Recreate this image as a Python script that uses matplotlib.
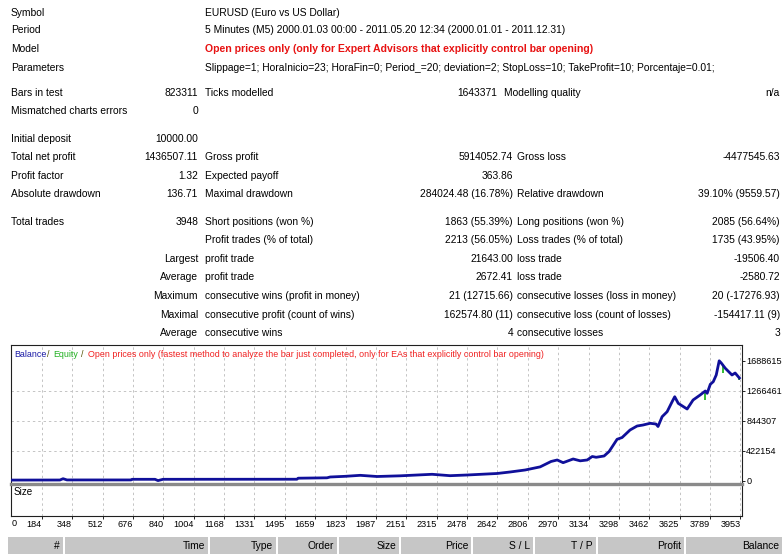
import matplotlib
matplotlib.use("Agg")
import matplotlib.pyplot as plt
from matplotlib.patches import Rectangle
from matplotlib.transforms import blended_transform_factory, offset_copy

# ---------------- data ----------------
info_labels = ["Symbol", "Period", "Model", "Parameters"]
info_values = [
    "EURUSD (Euro vs US Dollar)",
    "5 Minutes (M5) 2000.01.03 00:00 - 2011.05.20 12:34 (2000.01.01 - 2011.12.31)",
    "Open prices only (only for Expert Advisors that explicitly control bar opening)",
    "Slippage=1; HoraInicio=23; HoraFin=0; Period_=20; deviation=2; StopLoss=10; TakeProfit=10; Porcentaje=0.01;",
]

bars_row = ["Bars in test", "823311", "Ticks modelled", "1643371", "Modelling quality", "n/a"]
mismatch_row = ["Mismatched charts errors", "0"]
deposit_row = ["Initial deposit", "10000.00"]

stat_rows = [
    ["Total net profit", "1436507.11", "Gross profit", "5914052.74", "Gross loss", "-4477545.63"],
    ["Profit factor", "1.32", "Expected payoff", "363.86", "", ""],
    ["Absolute drawdown", "136.71", "Maximal drawdown", "284024.48 (16.78%)", "Relative drawdown", "39.10% (9559.57)"],
]
trade_rows = [
    ["Total trades", "3948", "Short positions (won %)", "1863 (55.39%)", "Long positions (won %)", "2085 (56.64%)"],
    ["", "", "Profit trades (% of total)", "2213 (56.05%)", "Loss trades (% of total)", "1735 (43.95%)"],
]
detail_rows = [
    ["Largest", "profit trade", "21643.00", "loss trade", "-19506.40"],
    ["Average", "profit trade", "2672.41", "loss trade", "-2580.72"],
    ["Maximum", "consecutive wins (profit in money)", "21 (12715.66)", "consecutive losses (loss in money)", "20 (-17276.93)"],
    ["Maximal", "consecutive profit (count of wins)", "162574.80 (11)", "consecutive loss (count of losses)", "-154417.11 (9)"],
    ["Average", "consecutive wins", "4", "consecutive losses", "3"],
]

chart_title_parts = ["Balance", "/", "Equity", "/",
                     "Open prices only (fastest method to analyze the bar just completed, only for EAs that explicitly control bar opening)"]

trade_no = [0, 282, 299, 320, 666, 671, 795, 811, 838, 1561, 1567, 1723, 1740, 1821, 1902,
            1993, 2117, 2290, 2387, 2479, 2641, 2711, 2792, 2873, 2932, 2965, 2997, 3051,
            3089, 3127, 3154, 3175, 3218, 3245, 3288, 3315, 3358, 3396, 3428, 3466, 3498,
            3509, 3531, 3558, 3585, 3599, 3618, 3666, 3698, 3736, 3764, 3774, 3791, 3807,
            3823, 3839, 3850, 3872, 3908, 3925, 3948]
balance = [10000, 11000, 29500, 12000, 12000, 21000, 21000, 3000, 21000, 22000, 36600, 42000,
           53500, 63000, 77000, 60500, 70000, 91500, 72000, 81600, 103000, 124000, 152000,
           196000, 272000, 293000, 255000, 307000, 281000, 293000, 342000, 331000, 349000,
           412000, 584000, 609000, 715000, 771000, 785000, 809000, 799000, 764000, 902000,
           972000, 1113000, 1183000, 1090000, 1010000, 1137000, 1207000, 1264000, 1231000,
           1358000, 1395000, 1489000, 1688615, 1658000, 1583000, 1489000, 1517000, 1446507]

equity_dip_trade = [3764, 3858, 3946]
equity_dip_low = [1137000, 1513000, 1418000]
equity_dip_high = [1264000, 1640000, 1460000]

y_ticks = [0, 422154, 844307, 1266461, 1688615]
y_tick_labels = ["0", "422154", "844307", "1266461", "1688615"]
x_ticks = [0, 184, 348, 512, 676, 840, 1004, 1168, 1331, 1495, 1659, 1823, 1987, 2151,
           2315, 2478, 2642, 2806, 2970, 3134, 3298, 3462, 3625, 3789, 3953]
x_tick_labels = [str(v) for v in x_ticks]

table_headers = ["#", "Time", "Type", "Order", "Size", "Price", "S / L", "T / P", "Profit", "Balance"]

# ---------------- figure ----------------
W, H = 782, 557
FONT = "Liberation Sans"
fig = plt.figure(figsize=(W / 100, H / 100), dpi=100)
fig.patch.set_facecolor("white")
renderer = fig.canvas.get_renderer()


def text_width(s, size, weight="normal"):
    t = fig.text(0, 0, s, fontsize=size, fontweight=weight, family=FONT)
    w = t.get_window_extent(renderer=renderer).width
    t.remove()
    return w


base = 10 * 510 / text_width(info_values[3], 10)
bold = 10 * 388 / text_width(info_values[2], 10, "bold")
title_size = 10 * 451 / text_width(chart_title_parts[4], 10)
tick_size = 6.6


def put(x, y, s, ha="left", size=None, color="black", weight="normal"):
    if not s:
        return
    fig.text(x / W, 1 - (y + 3.3) / H, s, ha=ha, va="baseline",
             fontsize=size or base, color=color, fontweight=weight, family=FONT)


# info block
info_y = [12.3, 29.3, 48.3, 67.7]
for lab, val, y in zip(info_labels, info_values, info_y):
    put(11, y, lab)
    if lab == "Model":
        put(205, y, val, size=bold, color="#e81212", weight="bold")
    else:
        put(205, y, val)

put(11, 92.3, bars_row[0]); put(198, 92.3, bars_row[1], ha="right")
put(205, 92.3, bars_row[2]); put(497, 92.3, bars_row[3], ha="right")
put(504, 92.3, bars_row[4]); put(780, 92.3, bars_row[5], ha="right")
put(11, 110.7, mismatch_row[0]); put(198, 110.7, mismatch_row[1], ha="right")
put(11, 139, deposit_row[0]); put(198, 139, deposit_row[1], ha="right")

for row, y in zip(stat_rows + trade_rows, [157, 176, 194, 221.7, 240]):
    put(11, y, row[0]); put(198, y, row[1], ha="right")
    put(205, y, row[2]); put(513, y, row[3], ha="right")
    put(517, y, row[4]); put(780, y, row[5], ha="right")

for row, y in zip(detail_rows, [258.3, 276.7, 295.7, 314.3, 332.7]):
    put(198, y, row[0], ha="right"); put(205, y, row[1])
    put(513, y, row[2], ha="right"); put(517, y, row[3])
    put(780, y, row[4], ha="right")

# ---------------- chart ----------------
XLIM = (18, 3962)
YLIM = (-31000, 1911000)
ax = fig.add_axes([11 / W, (H - 483) / H, (742 - 11) / W, (483 - 345) / H])
ax2 = fig.add_axes([11 / W, (H - 516) / H, (742 - 11) / W, (516 - 484) / H])

grid_kw = dict(color="#c4c4c4", lw=0.7, ls=(0, (2.5, 3)))
for a in (ax, ax2):
    a.set_xlim(*XLIM)
    a.set_facecolor("white")
    for sp in a.spines.values():
        sp.set_color("#202020")
        sp.set_linewidth(0.8)
    for xv in x_ticks[1:]:
        a.axvline(xv, zorder=0, **grid_kw)

ax.set_ylim(*YLIM)
for yv in y_ticks[1:4]:
    ax.axhline(yv, zorder=0, **grid_kw)
ax.spines["bottom"].set_visible(False)
ax.set_xticks([])
ax.yaxis.tick_right()
ax.set_yticks(y_ticks, y_tick_labels)
ax.tick_params(axis="y", direction="out", length=2.2, width=0.6, pad=0.8,
               labelsize=tick_size, colors="black")
for lbl in ax.get_yticklabels():
    lbl.set_family(FONT)

ax.vlines(equity_dip_trade, equity_dip_low, equity_dip_high, color="#22b822", lw=1.3, zorder=2)
ax.plot(trade_no, balance, color="#10109a", lw=2.0, solid_joinstyle="round", zorder=3)

# chart title
title_x = [14, 47, 53, 81, 88]
title_colors = ["#1a1aa6", "#505000", "#22b022", "#505000", "#f02020"]
for s, x, c in zip(chart_title_parts, title_x, title_colors):
    put(x, 354, s, size=title_size, color=c)

# size panel
ax2.set_ylim(0, 1)
ax2.set_yticks([])
ax2.spines["top"].set_color("#8a8a8a")
ax2.spines["top"].set_linewidth(2.4)
ax2.set_xticks(x_ticks[1:], x_tick_labels[1:], ha="right", family=FONT)
ax2.tick_params(axis="x", direction="out", length=2.2, width=0.6, pad=0.6,
                labelsize=tick_size, colors="black")
trans0 = offset_copy(blended_transform_factory(ax2.transData, ax2.transAxes),
                     fig=fig, x=1.0, y=-7.0, units="dots")
ax2.text(max(x_ticks[0], XLIM[0]), 0, x_tick_labels[0], transform=trans0,
         ha="left", va="center", fontsize=tick_size, family=FONT)
put(14, 492, "Size", size=tick_size + 0.5)

# ---------------- table header ----------------
cells = [(8, 63), (65, 208), (210, 276), (278, 337), (339, 399), (401, 471),
         (473, 533), (535, 596), (598, 684), (686, 782)]
for name, (x0, x1) in zip(table_headers, cells):
    fig.add_artist(Rectangle((x0 / W, 1 - 554 / H), (x1 - x0) / W, 17 / H,
                             transform=fig.transFigure, facecolor="#c6c6c6",
                             edgecolor="none"))
    put(x1 - 3, 545.5, name, ha="right")

fig.savefig("out.png", dpi=100, facecolor="white")
